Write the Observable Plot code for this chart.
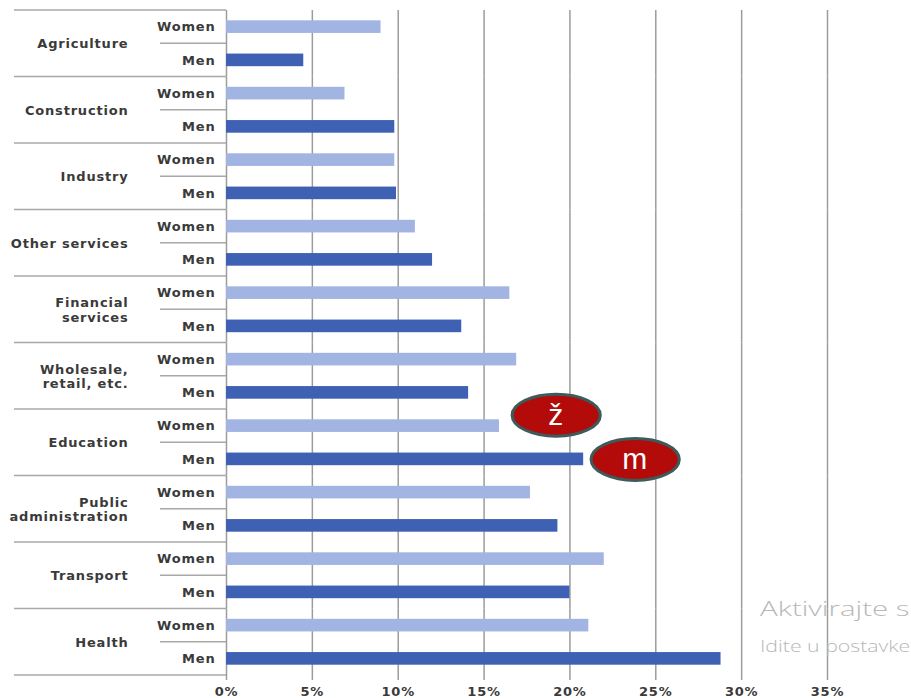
<!DOCTYPE html>
<html>
<head>
<meta charset="utf-8">
<script src="https://cdn.jsdelivr.net/npm/d3@7"></script>
<script src="https://cdn.jsdelivr.net/npm/@observablehq/plot@0.6"></script>
<style>
  html, body { margin: 0; padding: 0; background: #fff; overflow: hidden; }
  #wrap { position: relative; width: 911px; height: 698px; overflow: hidden; }
  .wm { position: absolute; left: 760px; color: #b8b8b8; font-family: "Open Sans", sans-serif; font-weight: 300; white-space: nowrap; transform-origin: 0 0; }
</style>
</head>
<body>
<div id="wrap"></div>
<script>
// ---- data ----
const sectors = ["Agriculture", "Construction", "Industry", "Other services", "Financial\nservices",
  "Wholesale,\nretail, etc.", "Education", "Public\nadministration", "Transport", "Health"];
const sexes = ["Women", "Men"];
const women = [9.0, 6.9, 9.8, 11.0, 16.5, 16.9, 15.9, 17.7, 22.0, 21.1];
const men   = [4.5, 9.8, 9.9, 12.0, 13.7, 14.1, 20.8, 19.3, 20.0, 28.8];
const xTicks = [0, 5, 10, 15, 20, 25, 30, 35];
const noteLabels  = ["ž", "m"];
const noteSectors = ["Education", "Education"];
const noteSexes   = ["Women", "Men"];
const noteValues  = [19.2, 23.8];

const rows = sectors.flatMap((s, i) => [
  {sector: s, sex: "Women", value: women[i]},
  {sector: s, sex: "Men", value: men[i]}
]);
const notes = noteLabels.map((t, i) => ({label: t, sector: noteSectors[i], sex: noteSexes[i], value: noteValues[i]}));

const ellipse = {
  draw(ctx, size) {
    const ry = Math.sqrt(size / Math.PI), rx = ry * 2.1, k = 0.5523;
    ctx.moveTo(rx, 0);
    ctx.bezierCurveTo(rx, k * ry, k * rx, ry, 0, ry);
    ctx.bezierCurveTo(-k * rx, ry, -rx, k * ry, -rx, 0);
    ctx.bezierCurveTo(-rx, -k * ry, -k * rx, -ry, 0, -ry);
    ctx.bezierCurveTo(k * rx, -ry, rx, -k * ry, rx, 0);
    ctx.closePath();
  }
};

const noteMarks = (i, dy) => {
  const d = notes.filter((_, j) => j === i);
  return [
    Plot.dot(d, {x: "value", y: "sex", fy: "sector", r: 21, symbol: ellipse, fill: "#b30a0a", stroke: "#3e5a5a", strokeWidth: 3, dy}),
    Plot.text(d, {x: "value", y: "sex", fy: "sector", text: "label", fill: "white", fontSize: 30, fontWeight: "normal", fontFamily: "Liberation Sans, sans-serif", dy})
  ];
};

const plot = Plot.plot({
  width: 911,
  height: 698,
  marginLeft: 226,
  marginRight: 84,
  marginTop: 10,
  marginBottom: 23,
  style: {fontFamily: "DejaVu Sans, sans-serif", fontSize: "13px", fontWeight: "bold", letterSpacing: "0.8px", background: "white", color: "#3a3a3a"},
  x: {domain: [0, 35]},
  y: {domain: sexes, paddingInner: 0.62, paddingOuter: 0.31, round: false},
  fy: {domain: sectors, padding: 0, round: false},
  color: {domain: sexes, range: ["#a2b4e2", "#3f61b3"]},
  marks: [
    Plot.gridX(xTicks, {stroke: "#9c9c9c", strokeOpacity: 1, strokeWidth: 1.5}),
    Plot.barX(rows, {x: "value", y: "sex", fy: "sector", fill: "sex"}),
    Plot.axisX(xTicks, {tickFormat: d => d + "%", tickSize: 5, tickPadding: 6, fontSize: 13, stroke: "#9c9c9c", strokeWidth: 1.5, fill: "#3a3a3a", label: null}),
    Plot.axisY({tickSize: 0, tickPadding: 11, fontSize: 13, fill: "#3a3a3a", label: null}),
    Plot.axisFy({anchor: "left", tickSize: 0, tickPadding: 98, fontSize: 13, lineHeight: 1.12, fill: "#3a3a3a", label: null}),
    ...noteMarks(0, -11),
    ...noteMarks(1, 0)
  ]
});

document.getElementById("wrap").appendChild(plot);

// left-hand separator lines positioned with Plot's own scales
try {
  const fy = plot.scale("fy");
  const xs = plot.scale("x");
  const x0 = xs.apply(0);
  const g = d3.select(plot).insert("g", ":first-child").attr("stroke", "#a8a8a8").attr("stroke-width", 1.5);
  sectors.forEach(s => {
    const top = fy.apply(s);
    g.append("line").attr("x1", 14).attr("x2", x0).attr("y1", top).attr("y2", top);
    g.append("line").attr("x1", x0 - 66).attr("x2", x0).attr("y1", top + fy.bandwidth / 2).attr("y2", top + fy.bandwidth / 2);
  });
  const last = fy.apply(sectors[sectors.length - 1]) + fy.bandwidth;
  g.append("line").attr("x1", 14).attr("x2", x0).attr("y1", last).attr("y2", last);
} catch (e) { console.error(e); }

// watermark text seen in the reference
const w1 = document.createElement("div");
w1.className = "wm"; w1.style.top = "598px"; w1.style.fontSize = "21px"; w1.style.lineHeight = "21px";
w1.style.transform = "scaleX(1.4)";
w1.textContent = "Aktivirajte s";
const w2 = document.createElement("div");
w2.className = "wm"; w2.style.top = "637px"; w2.style.fontSize = "17px"; w2.style.lineHeight = "17px";
w2.style.transform = "scaleX(1.25)";
w2.textContent = "Idite u postavke";
document.getElementById("wrap").appendChild(w1);
document.getElementById("wrap").appendChild(w2);
</script>
</body>
</html>
